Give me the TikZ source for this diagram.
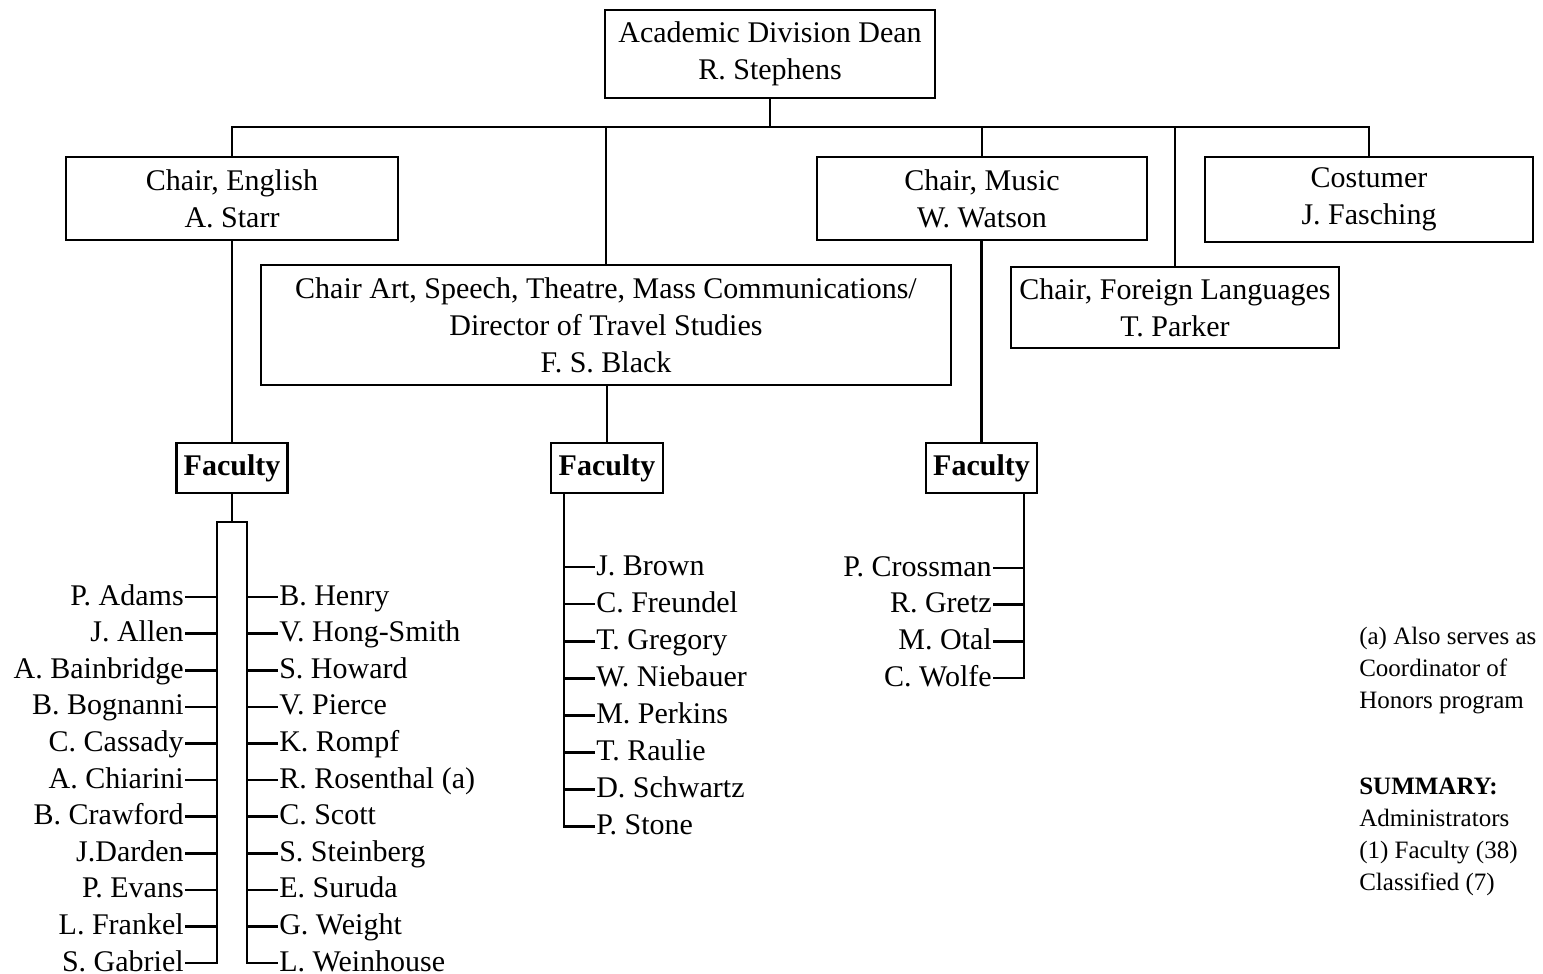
\documentclass[tikz,border=0pt]{standalone}
\usepackage{fontspec}
\setmainfont{Liberation Serif}
\begin{document}
\begin{tikzpicture}[x=1pt,y=-1pt, line width=2.6pt,
 box/.style={draw, inner sep=0pt, align=center, font=\fontsize{30}{37}\selectfont},
 fac/.style={draw, inner sep=0pt, minimum width=110pt, minimum height=50pt, font=\fontsize{30}{36}\selectfont\bfseries},
 nm/.style={inner sep=0pt, text height=21pt, text depth=5pt, font=\fontsize{30}{36}\selectfont},
 note/.style={inner sep=0pt, align=left, font=\fontsize{25}{32}\selectfont}]
\useasboundingbox (0,0) rectangle (1543,974);

% boxes
\node[box, minimum width=330pt, minimum height=88pt] (dean) at (770,54) {Academic Division Dean\\R. Stephens};
\node[box, minimum width=332pt, minimum height=83pt] (eng) at (232,198.5) {Chair, English\\A. Starr};
\node[box, minimum width=330pt, minimum height=83pt] (mus) at (982,198.5) {Chair, Music\\W. Watson};
\node[box, minimum width=328pt, minimum height=85pt] (cos) at (1369,199.5) {Costumer\\J. Fasching};
\node[box, minimum width=328pt, minimum height=81pt] (fl) at (1175,307.5) {Chair, Foreign Languages\\T. Parker};
\node[box, minimum width=690pt, minimum height=120pt] (art) at (606,325) {Chair Art, Speech, Theatre, Mass Communications/\\Director of Travel Studies\\F. S. Black};

\node[fac, minimum width=111pt] (fe) at (232,468) {Faculty};
\node[fac, minimum width=112pt] (fm) at (607,468) {Faculty};
\node[fac, minimum width=111pt] (fu) at (981.5,468) {Faculty};

% bus
\coordinate (bus) at (770,127);
\draw (dean.south) -- (bus);
\draw (eng.north) |- (bus) -| (cos.north);
\draw (art.north) -- (art.north |- bus);
\draw (mus.north) -- (mus.north |- bus);
\draw (fl.north) -- (fl.north |- bus);
\draw (eng.south) -- (fe.north);
\draw (fm.north |- art.south) -- (fm.north);
\draw (fu.north |- mus.south) -- (fu.north);

% English faculty
\coordinate (el) at (217,522);
\coordinate (er) at (247,522);
\draw (fe.south) -- (fe.south |- el);
\foreach \n [count=\i from 0] in {P. Adams, J. Allen, A. Bainbridge, B. Bognanni, C. Cassady, A. Chiarini, B. Crawford, J.Darden, P. Evans, L. Frankel, S. Gabriel} {
  \node[nm, anchor=east] (L\i) at (185, {597+36.6*\i}) {\n};
}
\foreach \n [count=\i from 0] in {B. Henry, V. Hong-Smith, S. Howard, V. Pierce, K. Rompf, R. Rosenthal (a), C. Scott, S. Steinberg, E. Suruda, G. Weight, L. Weinhouse} {
  \node[nm, anchor=west] (R\i) at (278, {597+36.6*\i}) {\n};
}
\draw (L10.east) -| (el) -- (er) |- (R10.west);
\foreach \i in {0,...,9} {
  \draw (L\i.east) -- (L\i.east -| el);
  \draw (R\i.west -| er) -- (R\i.west);
}

% Middle faculty
\coordinate (mv) at (564,493);
\foreach \n [count=\i from 0] in {J. Brown, C. Freundel, T. Gregory, W. Niebauer, M. Perkins, T. Raulie, D. Schwartz, P. Stone} {
  \node[nm, anchor=west] (M\i) at (595, {567+37.1*\i}) {\n};
}
\draw (fm.south -| mv) |- (M7.west);
\foreach \i in {0,...,6} {
  \draw (M\i.west -| mv) -- (M\i.west);
}

% Music faculty
\coordinate (uv) at (1024,493);
\foreach \n [count=\i from 0] in {P. Crossman, R. Gretz, M. Otal, C. Wolfe} {
  \node[nm, anchor=east] (U\i) at (993, {568+36.7*\i}) {\n};
}
\draw (fu.south -| uv) |- (U3.east);
\foreach \i in {0,...,2} {
  \draw (U\i.east -| uv) -- (U\i.east);
}

% notes
\node[note, anchor=north west] (na) at (1358,626) {(a) Also serves as\\Coordinator of\\Honors program};
\node[note, anchor=north west] (sm) at (1358,777) {\textbf{SUMMARY:}\\Administrators\\(1) Faculty (38)\\Classified (7)};
\end{tikzpicture}
\end{document}
